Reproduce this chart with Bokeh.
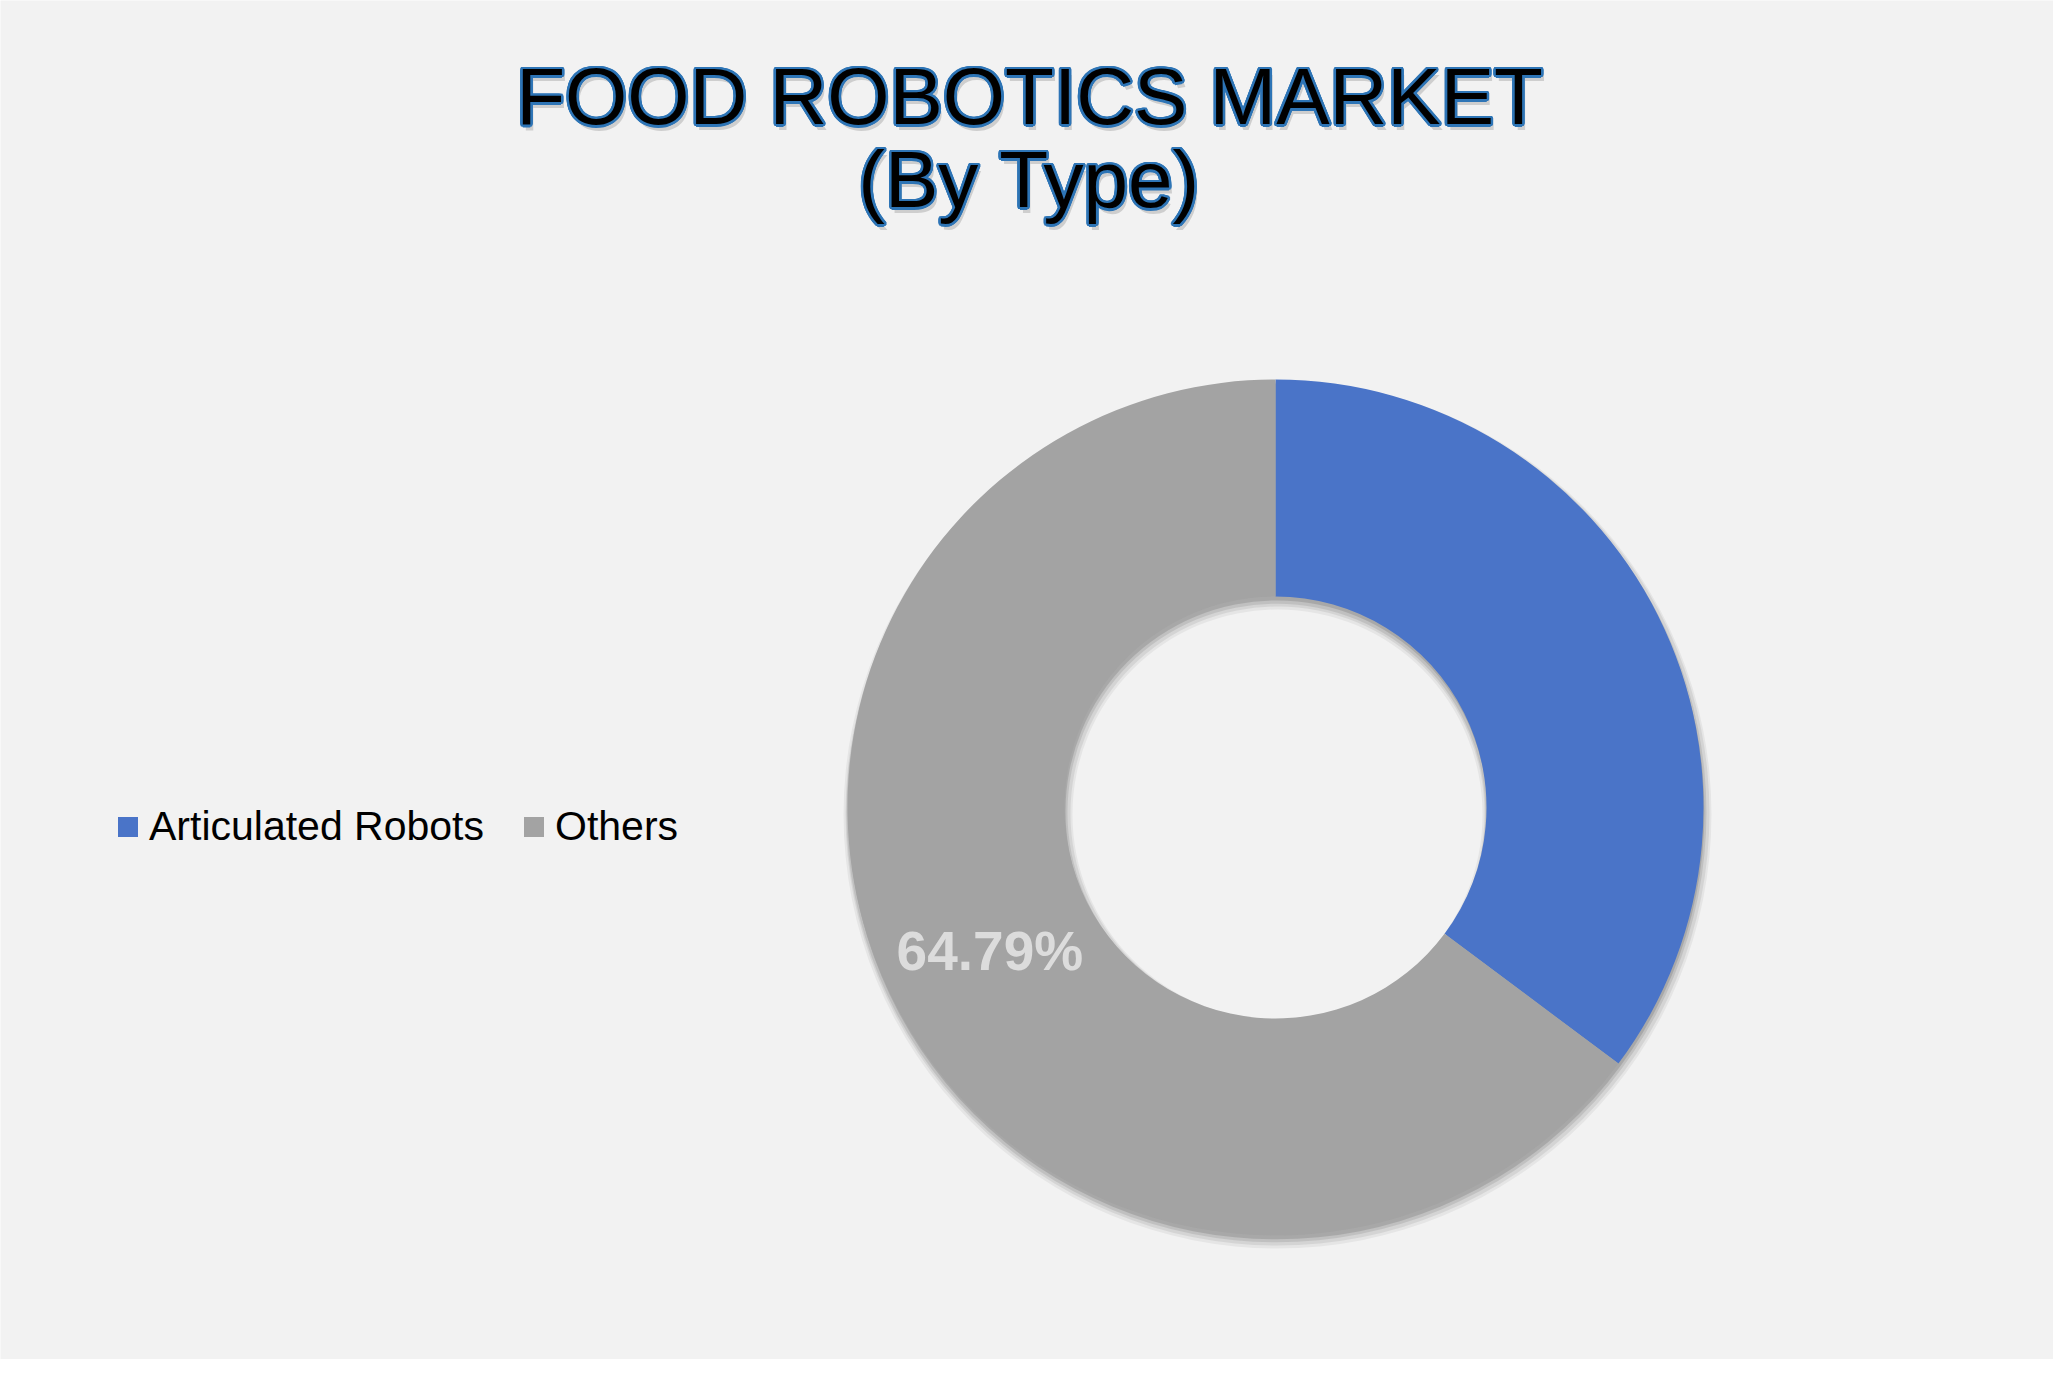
import numpy as np

from bokeh.embed import file_html
from bokeh.models import Label, Legend, LegendItem, Range1d
from bokeh.plotting import figure
from bokeh.resources import INLINE

# Data
types = ["Articulated Robots", "Others"]
shares = [35.21, 64.79]
colors = ["#4A74C8", "#A3A3A3"]
labelled = [False, True]
title_lines = ["FOOD ROBOTICS MARKET", "(By Type)"]

# Canvas: data units = reference pixels, y flipped so it points up
W, H = 2053, 1359
p = figure(width=W, height=H, x_range=Range1d(8, 8 + W), y_range=Range1d(8, 8 + H),
           output_backend="svg", toolbar_location=None, tools="", min_border=0,
           background_fill_color="#F2F2F2", border_fill_color="#F2F2F2",
           outline_line_color=None)
p.axis.visible = False
p.grid.visible = False

# Donut geometry
cx, cy = 1283, 1375 - 815
r_in, r_out = 211, 428

frac = np.array(shares) / sum(shares)
ends_cw = np.cumsum(frac)
starts_cw = ends_cw - frac
# slices go clockwise from 12 o'clock
start_angle = np.pi / 2 - ends_cw * 2 * np.pi
end_angle = np.pi / 2 - starts_cw * 2 * np.pi

# soft drop shadow under the ring
for dx, dy, grow, alpha in [(2, -7, 6, 0.05), (2, -6, 4, 0.07), (1, -5, 2, 0.09), (1, -4, 0, 0.12)]:
    p.annulus(x=cx + dx, y=cy + dy, inner_radius=r_in - grow, outer_radius=r_out + grow,
              fill_color="black", fill_alpha=alpha, line_color=None)

ring = p.annular_wedge(x=cx, y=cy, inner_radius=r_in, outer_radius=r_out,
                       start_angle=start_angle, end_angle=end_angle,
                       fill_color=colors, line_color=None)

# data labels at the middle of each labelled slice
mid = (start_angle + end_angle) / 2
r_mid = (r_in + r_out) / 2
for i, show_it in enumerate(labelled):
    if not show_it:
        continue
    p.add_layout(Label(x=cx + r_mid * np.cos(mid[i]), y=cy + r_mid * np.sin(mid[i]),
                       text=f"{shares[i]:.2f}%", text_align="center", text_baseline="middle",
                       text_font="Liberation Sans", text_font_style="bold",
                       text_font_size="55px", text_color="#DCDCDC"))

# Title with blue outline and soft shadow
title_y = [1375 - 104, 1375 - 187]
tx = 1037
outline = [(2.5 * np.cos(a), 2.5 * np.sin(a)) for a in np.linspace(0, 2 * np.pi, 16, endpoint=False)]
for line, ty in zip(title_lines, title_y):
    common = dict(x=tx, y=ty, text=line, text_align="center", text_baseline="alphabetic",
                  text_font="Liberation Sans", text_font_size="80px")
    p.add_layout(Label(x_offset=3, y_offset=-6, text_color="black", text_alpha=0.15, **common))
    for ox, oy in outline:
        p.add_layout(Label(x_offset=ox, y_offset=oy, text_color="#2E75B6", **common))
    p.add_layout(Label(text_color="black", **common))

# Legend on the left (area legend glyphs are drawn at 80% of the box)
items = [LegendItem(label=t, renderers=[ring], index=i) for i, t in enumerate(types)]
legend = Legend(items=items, orientation="horizontal", location=(115, 509),
                padding=0, margin=0, spacing=37, label_standoff=9,
                glyph_width=25, glyph_height=25, label_height=46,
                label_text_font="Liberation Sans", label_text_font_size="41px",
                label_text_color="black", border_line_color=None,
                background_fill_alpha=0)
p.add_layout(legend)

open("out.html", "w").write(file_html(p, INLINE))
